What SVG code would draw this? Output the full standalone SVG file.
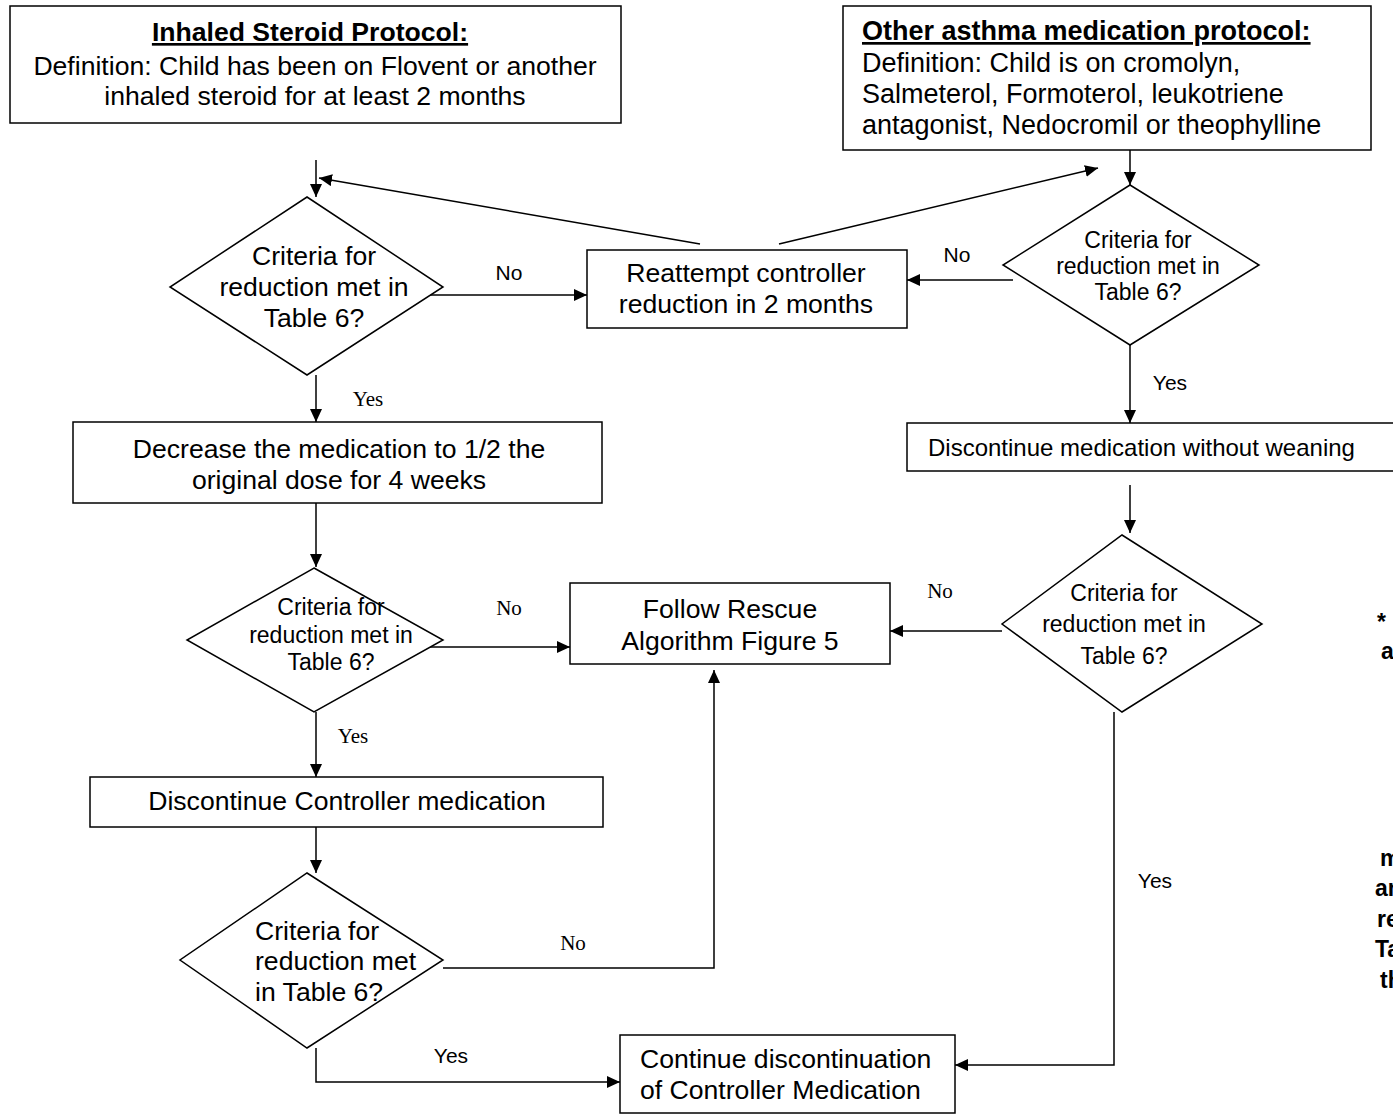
<svg xmlns="http://www.w3.org/2000/svg" width="1393" height="1115" viewBox="0 0 1393 1115">
<style>
.box{fill:#fff;stroke:#000;stroke-width:1.5}
.t{font-family:"Liberation Sans",Arial,sans-serif;font-size:26.6px;fill:#000}
.c{text-anchor:middle}
.b{font-weight:bold;text-decoration:underline}
.s{font-size:23px}
.m{font-size:23px}
.w{font-size:24px}
.bb{font-size:27px}
.lbl{font-family:"Liberation Sans",Arial,sans-serif;font-size:21px}
.tl{font-family:"Liberation Serif","Times New Roman",serif;font-size:21px}
.ln{fill:none;stroke:#000;stroke-width:1.5}
.edge{font-family:"Liberation Sans",Arial,sans-serif;font-size:23px;font-weight:bold}
</style>
<defs>
<marker id="ah" markerUnits="userSpaceOnUse" markerWidth="14" markerHeight="12" refX="13" refY="6" orient="auto">
<path d="M0,0 L13,6 L0,12 z" fill="#000"/>
</marker>
</defs>

<g id="connectors">
<line class="ln" x1="316" y1="160" x2="316" y2="197" marker-end="url(#ah)"/>
<line class="ln" x1="427" y1="295" x2="587" y2="295" marker-end="url(#ah)"/>
<line class="ln" x1="700" y1="244" x2="319" y2="178" marker-end="url(#ah)"/>
<line class="ln" x1="779" y1="244" x2="1098" y2="168" marker-end="url(#ah)"/>
<line class="ln" x1="1130" y1="150" x2="1130" y2="185" marker-end="url(#ah)"/>
<line class="ln" x1="1013" y1="280" x2="907" y2="280" marker-end="url(#ah)"/>
<line class="ln" x1="1130" y1="345" x2="1130" y2="423" marker-end="url(#ah)"/>
<line class="ln" x1="1130" y1="485" x2="1130" y2="533" marker-end="url(#ah)"/>
<line class="ln" x1="1002" y1="631" x2="890" y2="631" marker-end="url(#ah)"/>
<polyline class="ln" points="1114,712 1114,1065 955,1065" marker-end="url(#ah)"/>
<line class="ln" x1="316" y1="375" x2="316" y2="422" marker-end="url(#ah)"/>
<line class="ln" x1="316" y1="503" x2="316" y2="567" marker-end="url(#ah)"/>
<line class="ln" x1="428" y1="647" x2="570" y2="647" marker-end="url(#ah)"/>
<line class="ln" x1="316" y1="712" x2="316" y2="777" marker-end="url(#ah)"/>
<line class="ln" x1="316" y1="827" x2="316" y2="873" marker-end="url(#ah)"/>
<polyline class="ln" points="443,968 714,968 714,670" marker-end="url(#ah)"/>
<polyline class="ln" points="316,1048 316,1082 620,1082" marker-end="url(#ah)"/>
<text class="lbl c" x="509" y="280">No</text>
<text class="tl c" x="368" y="406">Yes</text>
<text class="lbl c" x="957" y="262">No</text>
<text class="lbl c" x="1170" y="390">Yes</text>
<text class="tl c" x="509" y="615">No</text>
<text class="tl c" x="353" y="743">Yes</text>
<text class="tl c" x="940" y="598">No</text>
<text class="lbl c" x="1155" y="888">Yes</text>
<text class="tl c" x="573" y="950">No</text>
<text class="lbl c" x="451" y="1063">Yes</text>
</g>

<g id="inhaled">
<rect class="box" x="10" y="6" width="611" height="117"/>
<text class="t c b" x="310" y="41">Inhaled Steroid Protocol:</text>
<text class="t c" x="315" y="75">Definition: Child has been on Flovent or another</text>
<text class="t c" x="315" y="105">inhaled steroid for at least 2 months</text>
</g>

<g id="other">
<rect class="box" x="843" y="6" width="528" height="144"/>
<text class="t b bb" x="862" y="40">Other asthma medication protocol:</text>
<text class="t bb" x="862" y="72">Definition: Child is on cromolyn,</text>
<text class="t bb" x="862" y="103">Salmeterol, Formoterol, leukotriene</text>
<text class="t bb" x="862" y="134">antagonist, Nedocromil or theophylline</text>
</g>

<g id="d1">
<polygon class="box" points="307,197 443,287 307,375 170,287"/>
<text class="t c" x="314" y="265">Criteria for</text>
<text class="t c" x="314" y="296">reduction met in</text>
<text class="t c" x="314" y="327">Table 6?</text>
</g>

<g id="reattempt">
<rect class="box" x="587" y="250" width="320" height="78"/>
<text class="t c" x="746" y="282">Reattempt controller</text>
<text class="t c" x="746" y="313">reduction in 2 months</text>
</g>

<g id="d2">
<polygon class="box" points="1130,185 1259,265 1130,345 1003,265"/>
<text class="t c s" x="1138" y="248">Criteria for</text>
<text class="t c s" x="1138" y="274">reduction met in</text>
<text class="t c s" x="1138" y="300">Table 6?</text>
</g>

<g id="discontinue-weaning">
<rect class="box" x="907" y="423" width="500" height="48"/>
<text class="t w" x="928" y="456">Discontinue medication without weaning</text>
</g>

<g id="d4">
<polygon class="box" points="1122,535 1262,624 1122,712 1002,624"/>
<text class="t c m" x="1124" y="601">Criteria for</text>
<text class="t c m" x="1124" y="632">reduction met in</text>
<text class="t c m" x="1124" y="664">Table 6?</text>
</g>

<g id="rescue">
<rect class="box" x="570" y="583" width="320" height="81"/>
<text class="t c" x="730" y="618">Follow Rescue</text>
<text class="t c" x="730" y="650">Algorithm Figure 5</text>
</g>

<g id="decrease">
<rect class="box" x="73" y="422" width="529" height="81"/>
<text class="t c" x="339" y="458">Decrease the medication to 1/2 the</text>
<text class="t c" x="339" y="489">original dose for 4 weeks</text>
</g>

<g id="d3">
<polygon class="box" points="314,568 443,640 314,712 187,640"/>
<text class="t c s" x="331" y="615">Criteria for</text>
<text class="t c s" x="331" y="643">reduction met in</text>
<text class="t c s" x="331" y="670">Table 6?</text>
</g>

<g id="discontinue-controller">
<rect class="box" x="90" y="777" width="513" height="50"/>
<text class="t c" x="347" y="810">Discontinue Controller medication</text>
</g>

<g id="d5">
<polygon class="box" points="307,873 443,960 307,1048 180,960"/>
<text class="t" x="255" y="940">Criteria for</text>
<text class="t" x="255" y="970">reduction met</text>
<text class="t" x="255" y="1001">in Table 6?</text>
</g>

<g id="continue">
<rect class="box" x="620" y="1035" width="335" height="78"/>
<text class="t" x="640" y="1068">Continue discontinuation</text>
<text class="t" x="640" y="1099">of Controller Medication</text>
</g>

<g id="side-note">
<text class="edge" x="1377" y="630">*</text>
<text class="edge" x="1381" y="659">a</text>
<text class="edge" x="1380" y="866">m</text>
<text class="edge" x="1375" y="896">an</text>
<text class="edge" x="1377" y="927">re</text>
<text class="edge" x="1375" y="957">Ta</text>
<text class="edge" x="1380" y="988">th</text>
</g>
</svg>
